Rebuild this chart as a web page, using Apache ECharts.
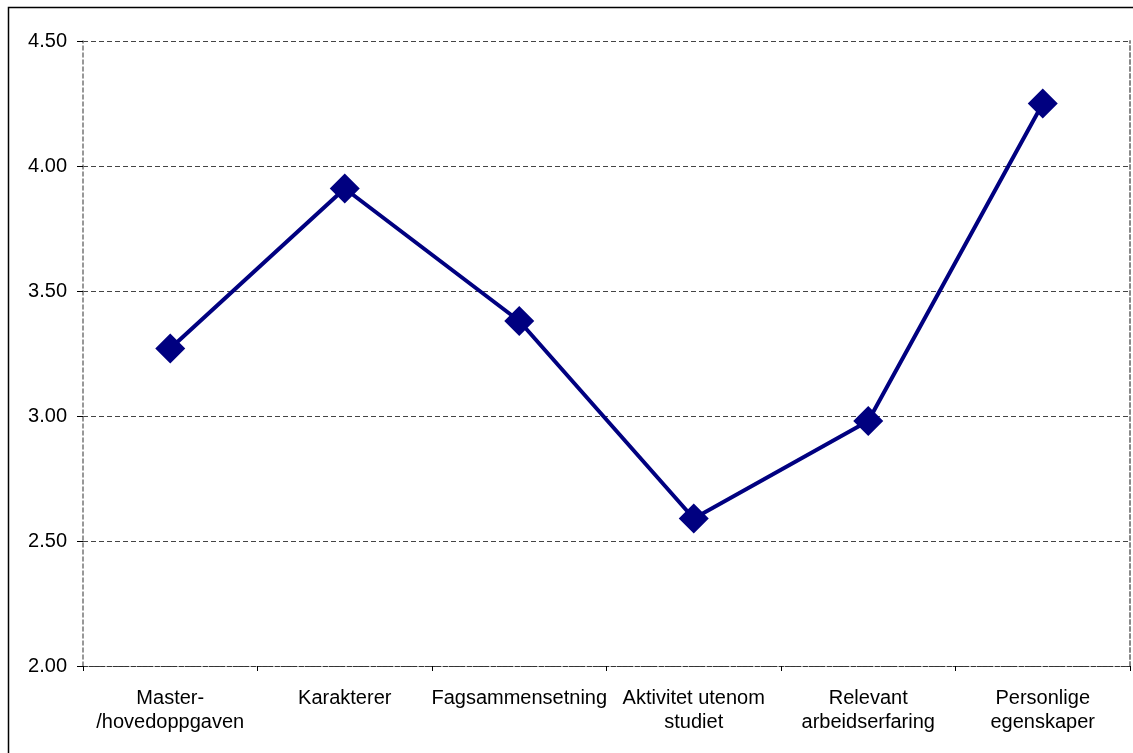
<!DOCTYPE html>
<html><head><meta charset="utf-8">
<script src="https://cdn.jsdelivr.net/npm/echarts@6/dist/echarts.min.js"></script>
<style>html,body{margin:0;padding:0;background:#fff;}#c{width:1133px;height:753px;}</style>
</head><body><div id="c"></div>
<script>
const categories = ["Master-\n/hovedoppgaven","Karakterer","Fagsammensetning","Aktivitet utenom\nstudiet","Relevant\narbeidserfaring","Personlige\negenskaper"];
const values = [3.27, 3.91, 3.38, 2.59, 2.98, 4.25];
const yMin = 2.0, yMax = 4.5, yStep = 0.5;

const chart = echarts.init(document.getElementById('c'), null, {renderer:'canvas'});
chart.setOption({
  animation:false,
  backgroundColor:'#fff',
  textStyle:{fontFamily:'Liberation Sans, Arial, sans-serif'},
  graphic:[{type:'rect', shape:{x:8.5,y:7.5,width:1130,height:800}, style:{fill:'none',stroke:'#000',lineWidth:1.5}, silent:true}],
  grid:{left:83,right:3,top:41,bottom:87,containLabel:false},
  xAxis:{type:'category',data:categories,boundaryGap:true,
    axisLine:{show:true,lineStyle:{color:'#333',type:[4,2],width:1}},
    axisTick:{show:true,length:5,lineStyle:{color:'#000'},alignWithLabel:false},
    axisLabel:{color:'#000',fontSize:20,lineHeight:24,margin:20,interval:0,fontFamily:'Liberation Sans'},
    splitLine:{show:false}},
  yAxis:[{type:'value',min:yMin,max:yMax,interval:yStep,
    axisLine:{show:true,lineStyle:{color:'#777',type:[4,3],width:1.5}},
    axisTick:{show:true,length:6,lineStyle:{color:'#000'}},
    axisLabel:{color:'#000',fontSize:20,margin:16,formatter:v=>v.toFixed(2),fontFamily:'Liberation Sans'},
    splitLine:{show:true,lineStyle:{color:'#444',type:[5,3],width:1}}},
   {type:'value',min:yMin,max:yMax,interval:yStep,position:'right',
    axisLine:{show:true,lineStyle:{color:'#888',type:[4,3],width:2}},
    axisTick:{show:false},axisLabel:{show:false},splitLine:{show:false}}],
  series:[{type:'line',data:values,yAxisIndex:0,symbol:'diamond',symbolSize:[30,30],
    lineStyle:{color:'#000080',width:4},itemStyle:{color:'#000080'}}]
});
</script></body></html>
